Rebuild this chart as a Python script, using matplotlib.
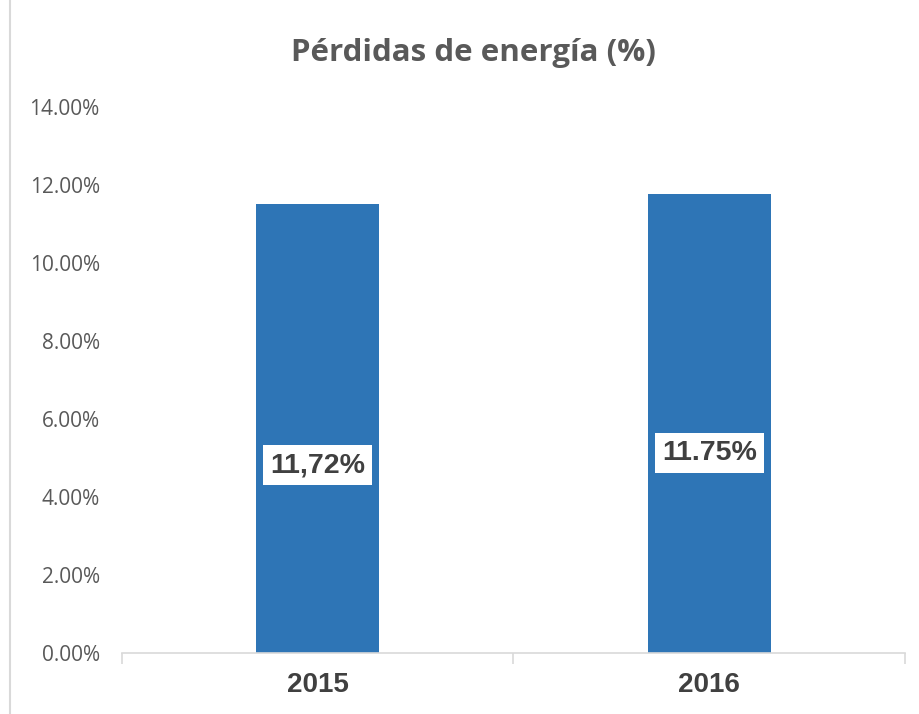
import matplotlib.pyplot as plt
from matplotlib.ticker import FuncFormatter, FixedLocator
from matplotlib.lines import Line2D

years = ['2015', '2016']
perdidas = [11.51, 11.77]          # bar heights as drawn (%)
etiquetas = ['11,72%', '11.75%']   # labels as printed on the chart
pos_etiqueta = [4.82, 5.13]        # where the label boxes sit

fig = plt.figure(figsize=(9.19, 7.14), dpi=100)
ax = fig.add_axes([122/919, 1-653/714, (905-122)/919, (653-107)/714])

x = range(len(years))
ax.bar(x, perdidas, width=0.314, color='#2E75B6')

for i in x:
    ax.text(i, pos_etiqueta[i], etiquetas[i], ha='center', va='center',
            fontsize=20.5, fontweight='bold', color='#404040',
            family='Liberation Sans',
            bbox=dict(facecolor='white', edgecolor='none', pad=5))

ax.set_xlim(-0.5, 1.5)
ax.set_ylim(0, 14)
ax.set_yticks([0, 2, 4, 6, 8, 10, 12, 14])
ax.yaxis.set_major_formatter(FuncFormatter(lambda v, p: '%.2f%%' % v))
ax.tick_params(axis='y', length=0, pad=16, labelsize=15, labelcolor='#595959')
for t in ax.get_yticklabels():
    t.set_family('Open Sans')

ax.set_xticks(list(x))
ax.set_xticklabels(years, fontsize=20, fontweight='bold', color='#404040',
                   family='Liberation Sans')
ax.tick_params(axis='x', which='major', length=0, pad=14)
ax.xaxis.set_minor_locator(FixedLocator([-0.5, 0.5, 1.5]))
ax.tick_params(axis='x', which='minor', length=8, color='#d9d9d9', width=1.2)

for s in ['top', 'right', 'left']:
    ax.spines[s].set_visible(False)
ax.spines['bottom'].set_color('#d9d9d9')
ax.spines['bottom'].set_linewidth(1.2)

fig.text(473/919, 1-53/714, 'Pérdidas de energía (%)', ha='center', va='center',
         fontsize=22.5, fontweight='bold', color='#595959', family='Open Sans')

fig.add_artist(Line2D([10/919, 10/919], [0, 1], color='#d9d9d9', lw=1.5,
                      transform=fig.transFigure))

fig.savefig('out.png', dpi=100)
